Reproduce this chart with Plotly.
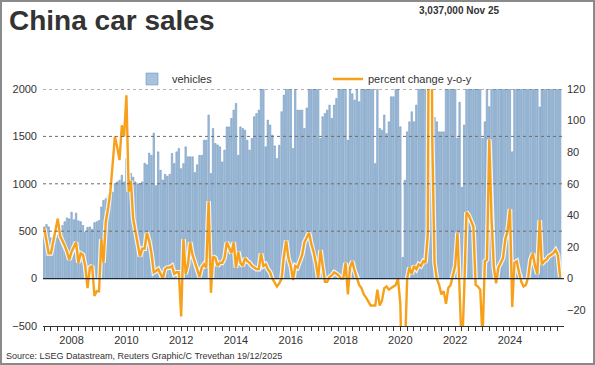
import pandas as pd
import plotly.graph_objects as go

# ---- data (vehicles in thousands, percent change y-o-y) ----
start_month = "2007-01-01"

v2007 = [545, 570, 545, 430, 420, 430, 460, 480, 560, 600, 640, 630]
v2008 = [700, 620, 690, 610, 600, 560, 490, 540, 545, 520, 590, 600]
v2009 = [614, 755, 825, 843, 878, 949, 913, 1002, 1020, 1037, 1090, 1020]
v2010 = [1266, 1107, 1110, 1070, 1020, 1000, 1000, 1020, 1217, 1200, 1323, 1300]
v2011 = [1534, 980, 1337, 1143, 1040, 1100, 1080, 1100, 1320, 1213, 1337, 1372]
v2012 = [1160, 1213, 1390, 1285, 1285, 1285, 1118, 1200, 1300, 1300, 1460, 1460]
v2013 = [1725, 1108, 1584, 1425, 1410, 1390, 1230, 1355, 1600, 1600, 1690, 1777]
v2014 = [1848, 1300, 1600, 1584, 1566, 1460, 1355, 1478, 1707, 1740, 1777, 2050]
v2015 = [2030, 1390, 1672, 1620, 1513, 1400, 1266, 1407, 1760, 1936, 2100, 2200]
v2016 = [2100, 1372, 2050, 1777, 1777, 1777, 1584, 1800, 2200, 2300, 2500, 2600]
v2017 = [2100, 1478, 1707, 1742, 1777, 1830, 1690, 1830, 1900, 2100, 2500, 2600]
v2018 = [2300, 1460, 2100, 1950, 1883, 2050, 1865, 2010, 2060, 2000, 2200, 2400]
v2019 = [2100, 1213, 2170, 1584, 1566, 1725, 1530, 1654, 1918, 1918, 2100, 2300]
v2020 = [1601, 224, 1037, 1548, 1654, 1760, 1654, 1830, 2100, 2200, 2300, 2500]
v2021 = [2200, 1250, 2050, 1700, 1654, 1548, 1548, 1548, 2000, 2050, 2200, 2600]
v2022 = [2300, 1480, 1860, 963, 1620, 2200, 2170, 2100, 2330, 2200, 2000, 2300]
v2023 = [1478, 1654, 2010, 1813, 2100, 2400, 2100, 2300, 2500, 2500, 2600, 2800]
v2024 = [2400, 1337, 2300, 2000, 2100, 2300, 2050, 2400, 2800, 2900, 3000, 3200]
v2025 = [2400, 1810, 2500, 2300, 2300, 2600, 2300, 2600, 2900, 2900, 3037]

p2007 = [32, 22, 16, 16, 23, 30, 38, 27, 24, 21, 17, 12]
p2008 = [17, 20, 23, 10, 16, 15, 8, -6, 7, 8, -11, -8]
p2009 = [-8, 25, 10, 36, 44, 55, 70, 90, 83, 75, 97, 90]
p2010 = [116, 55, 62, 38, 30, 22, 14, 19, 19, 29, 24, 16]
p2011 = [4, 5, 6, 3, 0, 6, 7, 7, 8, 3, 4, 4]
p2012 = [-24, 25, 3, 9, 23, 15, 11, 6, 1, 7, 9, 7]
p2013 = [49, -9, 14, 13, 8, 10, 10, 13, 23, 20, 16, 23]
p2014 = [7, 17, 10, 8, 13, 11, 10, 8, 7, 6, 6, 16]
p2015 = [8, 9, 6, 4, 0, -3, -5, -3, 0, 14, 24, 13]
p2016 = [8, -1, 8, 7, 11, 15, 23, 26, 29, 22, 17, 10]
p2017 = [0, 18, 8, -2, -2, 1, 2, 4, 3, 2, 0, 0]
p2018 = [10, -10, 7, 11, 5, 1, -4, -6, -10, -12, -15, -17]
p2019 = [-17, -17, -7, -17, -14, -6, -5, -7, -6, -5, -4, 0]
p2020 = [-16, -80, -48, 0, 7, 3, 8, 6, 9, 8, 11, 10]
p2021 = [28, 380, 90, 10, 0, -4, -10, -8, -16, -6, -4, 2]
p2022 = [8, 29, 2, -48, -8, 42, 40, 36, 33, -4, -5, -7]
p2023 = [-38, 11, 12, 88, 38, 7, -3, 7, 10, 13, 25, 30]
p2024 = [44, -18, 10, 11, 4, -2, -5, -4, 1, 12, 16, 8]
p2025 = [3, 37, 9, 11, 12, 14, 15, 16, 18, 15, 1]

year_ticks = [str(y) for y in range(2007, 2026)]

vehicles = (v2007 + v2008 + v2009 + v2010 + v2011 + v2012 + v2013 + v2014 + v2015
            + v2016 + v2017 + v2018 + v2019 + v2020 + v2021 + v2022 + v2023 + v2024 + v2025)
pct = (p2007 + p2008 + p2009 + p2010 + p2011 + p2012 + p2013 + p2014 + p2015
       + p2016 + p2017 + p2018 + p2019 + p2020 + p2021 + p2022 + p2023 + p2024 + p2025)
months = pd.date_range(start_month, periods=len(vehicles), freq="MS")

# ---- layout geometry (pixels) ----
W, H = 595, 365
ML, MR, MT, MB = 43, 31, 89, 39
PW, PH = W - ML - MR, H - MT - MB


def px_x(p):
    return (p - ML) / PW


def px_y(p):
    return (H - MB - p) / PH


FONT = "Liberation Sans, Arial, sans-serif"
TXT = "#333333"
BAR_FILL = "#a6c2dd"
BAR_EDGE = "#5c88b4"
ORANGE = "#f7a11a"

fig = go.Figure()
fig.add_trace(go.Bar(
    x=months, y=vehicles, name="vehicles",
    marker=dict(color=BAR_FILL, line=dict(color=BAR_EDGE, width=0.5)),
    yaxis="y",
))
fig.add_trace(go.Scatter(
    x=months, y=pct, mode="lines", showlegend=False, hoverinfo="skip",
    line=dict(color="rgba(255,255,255,0.85)", width=4.8), yaxis="y2",
))
fig.add_trace(go.Scatter(
    x=months, y=pct, mode="lines", name="percent change y-o-y",
    line=dict(color=ORANGE, width=2.4), yaxis="y2",
))

shapes = []
for g in [500, 1000, 1500, 2000]:
    shapes.append(dict(type="line", xref="paper", yref="y", x0=0, x1=1, y0=g, y1=g,
                       line=dict(color="#6d6d6d", width=1, dash="dot"), layer="above"))
shapes.append(dict(type="line", xref="paper", yref="y", x0=0, x1=1, y0=0, y1=0,
                   line=dict(color="#1c2b3a", width=1.2), layer="above"))
# outer frame
shapes.append(dict(type="rect", xref="paper", yref="paper",
                   x0=px_x(1), x1=px_x(W - 1), y0=px_y(H - 1), y1=px_y(1),
                   line=dict(color="#8a8a8a", width=2), fillcolor="rgba(0,0,0,0)", layer="above"))

annotations = [
    dict(text="<b>China car sales</b>", xref="paper", yref="paper",
         x=px_x(7), y=px_y(3), xanchor="left", yanchor="top", showarrow=False,
         font=dict(family=FONT, size=28, color=TXT)),
    dict(text="<b>3,037,000 Nov 25</b>", xref="paper", yref="paper",
         x=px_x(501), y=px_y(3), xanchor="right", yanchor="top", showarrow=False,
         font=dict(family=FONT, size=10, color=TXT)),
    dict(text="Source: LSEG Datastream, Reuters Graphic/C Trevethan 19/12/2025",
         xref="paper", yref="paper", x=px_x(4), y=px_y(356), xanchor="left",
         yanchor="middle", showarrow=False, font=dict(family=FONT, size=9, color=TXT)),
]

fig.update_layout(
    width=W, height=H,
    margin=dict(l=ML, r=MR, t=MT, b=MB, autoexpand=False),
    paper_bgcolor="white", plot_bgcolor="white",
    font=dict(family=FONT, size=11, color=TXT),
    bargap=0.3,
    showlegend=True,
    legend=dict(orientation="h", xref="container", yref="container",
                x=132 / W, y=1 - 79 / H, xanchor="left", yanchor="middle",
                font=dict(size=11, color=TXT), entrywidth=151, entrywidthmode="pixels",
                bgcolor="rgba(0,0,0,0)", traceorder="normal"),
    xaxis=dict(
        type="date", range=["2006-12-16", "2025-12-22"],
        tickvals=[f"{y}-01-01" for y in year_ticks],
        ticktext=[y if int(y) % 2 == 0 else "" for y in year_ticks],
        ticks="outside", ticklen=4, tickcolor=TXT, tickwidth=1,
        showline=True, linecolor=TXT, linewidth=1.2, showgrid=False, zeroline=False,
        minor=dict(dtick="M3", tick0="2007-01-01", ticks="outside", ticklen=4,
                   tickcolor=TXT, showgrid=False),
        tickfont=dict(size=11, color=TXT),
    ),
    yaxis=dict(
        range=[-500, 2000], tickvals=[-500, 0, 500, 1000, 1500, 2000],
        showgrid=False, zeroline=False, showline=False, ticks="",
        ticklabelstandoff=5, tickfont=dict(size=11, color=TXT),
    ),
    yaxis2=dict(
        range=[-30, 120], tickvals=[-20, 0, 20, 40, 60, 80, 100, 120],
        overlaying="y", side="right", showgrid=False, zeroline=False, showline=False,
        ticks="", ticklabelstandoff=2, tickfont=dict(size=11, color=TXT),
    ),
    shapes=shapes,
    annotations=annotations,
)

fig.write_html(
    "out.html",
    config={"displayModeBar": False},
    post_script="document.body.style.margin='0';document.body.style.padding='0';"
                "document.body.style.overflow='hidden';",
)
